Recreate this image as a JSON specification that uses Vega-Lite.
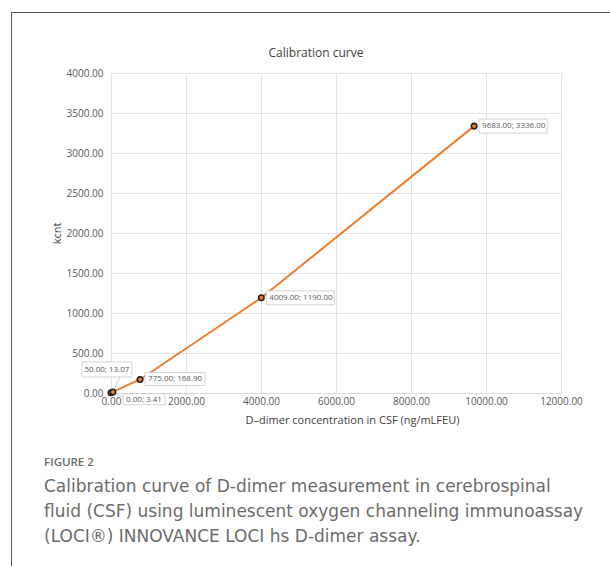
{
  "$schema": "https://vega.github.io/schema/vega-lite/v6.json",
  "padding": {"left": 11, "top": 12, "right": 0, "bottom": 0},
  "background": "white",
  "spacing": -1,
  "datasets": {
    "calib": [
      {"conc": 0, "kcnt": 3.41, "label": "0.00; 3.41"},
      {"conc": 50, "kcnt": 13.07, "label": "50.00; 13.07"},
      {"conc": 775, "kcnt": 168.9, "label": "775.00; 168.90"},
      {"conc": 4009, "kcnt": 1190, "label": "4009.00; 1190.00"},
      {"conc": 9683, "kcnt": 3336, "label": "9683.00; 3336.00"}
    ],
    "blank": []
  },
  "vconcat": [
    {
      "data": {"name": "blank"},
      "mark": {"type": "point", "opacity": 0},
      "width": 599,
      "height": 1,
      "view": {"stroke": null, "fill": "#555555"}
    },
    {
      "spacing": 32,
      "hconcat": [
        {
          "data": {"name": "blank"},
          "mark": {"type": "point", "opacity": 0},
          "width": 1,
          "height": 553,
          "view": {"stroke": null, "fill": "#555555"}
        },
        {
          "spacing": 0,
          "vconcat": [
            {
              "data": {"name": "blank"},
              "mark": {"type": "point", "opacity": 0},
              "width": 450,
              "height": 34,
              "view": {"stroke": null, "fill": null}
            },
            {
              "data": {"name": "calib"},
              "width": 450,
              "height": 320,
              "view": {"stroke": null},
              "title": {
                "text": "Calibration curve",
                "font": "Open Sans",
                "fontSize": 12,
                "fontWeight": "normal",
                "color": "#404040",
                "dx": -20,
                "offset": 8
              },
              "encoding": {
                "x": {
                  "field": "conc",
                  "type": "quantitative",
                  "scale": {"domain": [0, 12000], "nice": false, "zero": true},
                  "axis": {
                    "values": [0, 2000, 4000, 6000, 8000, 10000, 12000],
                    "format": ".2f",
                    "title": "D–dimer concentration in CSF (ng/mLFEU)",
                    "titleX": 241,
                    "titleAlign": "center",
                    "titlePadding": 8,
                    "titleFontSize": 11,
                    "labelPadding": 3,
                    "labelOverlap": false,
                    "labelBound": false,
                    "labelFlush": false
                  }
                },
                "y": {
                  "field": "kcnt",
                  "type": "quantitative",
                  "scale": {"domain": [0, 4000], "nice": false},
                  "axis": {
                    "values": [0, 500, 1000, 1500, 2000, 2500, 3000, 3500, 4000],
                    "format": ".2f",
                    "title": "kcnt",
                    "titleFontSize": 11,
                    "titlePadding": 4,
                    "labelPadding": 8,
                    "domain": false,
                    "labelOverlap": false,
                    "labelFlush": false
                  }
                }
              },
              "layer": [
                {
                  "mark": {"type": "line", "color": "#ED7D31", "strokeWidth": 2}
                },
                {
                  "transform": [{"filter": "datum.conc == 50"}],
                  "mark": {"type": "rule", "color": "#bfbfbf", "strokeWidth": 0.8, "x2Offset": 7, "y2Offset": -15},
                  "encoding": {"x2": {"field": "conc"}, "y2": {"field": "kcnt"}}
                },
                {
                  "transform": [{"filter": "datum.conc == 0"}],
                  "mark": {"type": "rule", "color": "#bfbfbf", "strokeWidth": 0.8, "x2Offset": 12, "y2Offset": 4},
                  "encoding": {"x2": {"field": "conc"}, "y2": {"field": "kcnt"}}
                },
                {
                  "mark": {"type": "point", "filled": true, "fill": "#ED7D31", "stroke": "#1f1f1f", "strokeWidth": 1.6, "size": 30, "opacity": 1}
                },
                {
                  "transform": [{"filter": "datum.conc > 1000"}],
                  "mark": {"type": "rect", "fill": "white", "stroke": "#c9c9c9", "strokeWidth": 0.8, "xOffset": 5, "x2Offset": 73, "yOffset": -7, "y2Offset": 7},
                  "encoding": {"x2": {"field": "conc"}, "y2": {"field": "kcnt"}}
                },
                {
                  "transform": [{"filter": "datum.conc == 775"}],
                  "mark": {"type": "rect", "fill": "white", "stroke": "#c9c9c9", "strokeWidth": 0.8, "xOffset": 5, "x2Offset": 65, "yOffset": -7, "y2Offset": 6},
                  "encoding": {"x2": {"field": "conc"}, "y2": {"field": "kcnt"}}
                },
                {
                  "transform": [{"filter": "datum.conc == 50"}],
                  "mark": {"type": "rect", "fill": "white", "stroke": "#c9c9c9", "strokeWidth": 0.8, "xOffset": -31, "x2Offset": 19, "yOffset": -30, "y2Offset": -15},
                  "encoding": {"x2": {"field": "conc"}, "y2": {"field": "kcnt"}}
                },
                {
                  "transform": [{"filter": "datum.conc == 0"}],
                  "mark": {"type": "rect", "fill": "white", "stroke": "#c9c9c9", "strokeWidth": 0.8, "xOffset": 12, "x2Offset": 54, "yOffset": 1, "y2Offset": 12},
                  "encoding": {"x2": {"field": "conc"}, "y2": {"field": "kcnt"}}
                },
                {
                  "transform": [{"filter": "datum.conc > 500"}],
                  "mark": {"type": "text", "align": "left", "baseline": "middle", "dx": 8, "font": "Open Sans", "fontSize": 8, "color": "#595959"},
                  "encoding": {"text": {"field": "label"}}
                },
                {
                  "transform": [{"filter": "datum.conc == 50"}],
                  "mark": {"type": "text", "align": "center", "baseline": "middle", "dx": -6, "dy": -22, "font": "Open Sans", "fontSize": 8, "color": "#595959"},
                  "encoding": {"text": {"field": "label"}}
                },
                {
                  "transform": [{"filter": "datum.conc == 0"}],
                  "mark": {"type": "text", "align": "center", "baseline": "middle", "dx": 33, "dy": 7, "font": "Open Sans", "fontSize": 8, "color": "#595959"},
                  "encoding": {"text": {"field": "label"}}
                }
              ]
            },
            {
              "data": {"name": "blank"},
              "mark": {"type": "point", "opacity": 0},
              "width": 450,
              "height": 0.01,
              "view": {"stroke": null, "fill": null},
              "title": {
                "text": "FIGURE 2",
                "subtitle": [
                  "Calibration curve of D-dimer measurement in cerebrospinal",
                  "fluid (CSF) using luminescent oxygen channeling immunoassay",
                  "(LOCI®) INNOVANCE LOCI hs D-dimer assay."
                ],
                "orient": "bottom",
                "anchor": "start",
                "frame": "group",
                "dx": -67,
                "offset": 32,
                "font": "Open Sans",
                "fontSize": 11.5,
                "fontWeight": 600,
                "color": "#6b6b6b",
                "subtitleFont": "DejaVu Sans",
                "subtitleFontSize": 17,
                "subtitleColor": "#6b6b6b",
                "subtitleLineHeight": 25,
                "subtitlePadding": 10
              }
            }
          ]
        }
      ]
    }
  ],
  "config": {
    "axis": {
      "labelFont": "Open Sans",
      "labelFontSize": 10,
      "labelColor": "#595959",
      "titleFont": "Open Sans",
      "titleFontSize": 10,
      "titleFontWeight": "normal",
      "titleColor": "#404040",
      "ticks": false,
      "gridColor": "#e3e3e3",
      "gridWidth": 1,
      "domainColor": "#d9d9d9"
    }
  }
}
